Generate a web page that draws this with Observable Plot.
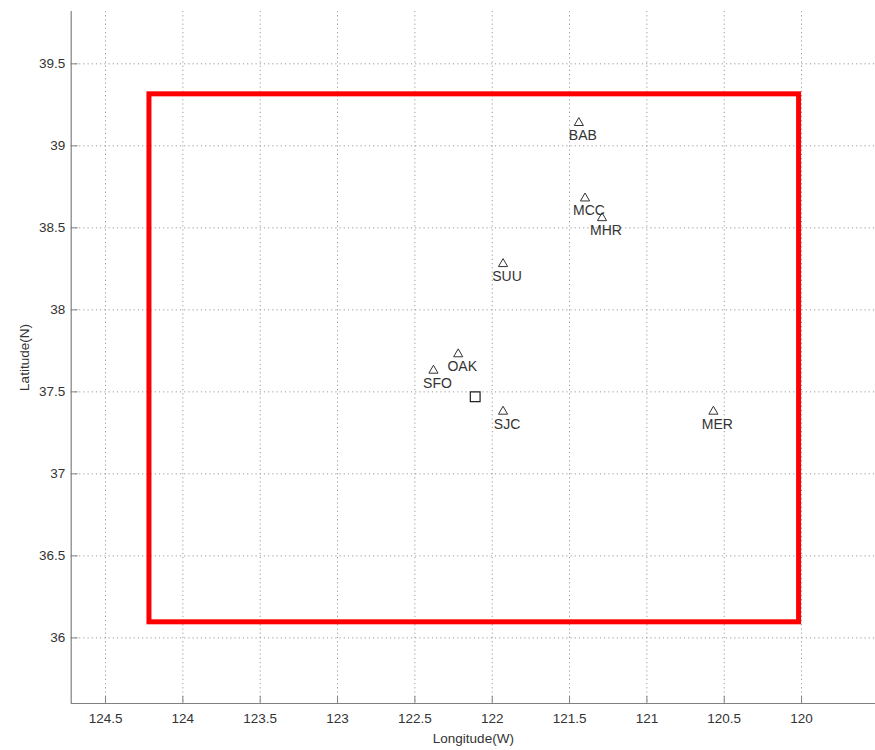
<!DOCTYPE html>
<html><head><meta charset="utf-8">
<script src="https://cdn.jsdelivr.net/npm/d3@7"></script>
<script src="https://cdn.jsdelivr.net/npm/@observablehq/plot@0.6"></script>
<style>body{margin:0;background:#fff;}</style>
</head><body><div id="chart"></div>
<script>
const xTicks = [124.5, 124, 123.5, 123, 122.5, 122, 121.5, 121, 120.5, 120];
const yTicks = [36, 36.5, 37, 37.5, 38, 38.5, 39, 39.5];
const xDomain = [124.722, 119.522];
const yDomain = [35.6, 39.819];
const stationNames = ["BAB", "MCC", "MHR", "SUU", "OAK", "SFO", "SJC", "MER"];
const stationLon = [121.44, 121.40, 121.29, 121.93, 122.22, 122.38, 121.93, 120.57];
const stationLat = [39.14, 38.68, 38.56, 38.28, 37.73, 37.63, 37.38, 37.38];
const targetLon = [122.11];
const targetLat = [37.47];
const boxLon = [124.216, 120.016];
const boxLat = [36.095, 39.314];

const stations = stationNames.map((name, i) => ({name, lon: stationLon[i], lat: stationLat[i]}));
const targets = targetLon.map((lon, i) => ({lon, lat: targetLat[i]}));
const box = [{x1: boxLon[0], x2: boxLon[1], y1: boxLat[0], y2: boxLat[1]}];

const W = 875, H = 750, mL = 70.7, mR = 0, mT = 11, mB = 47;
const innerW = W - mL - mR, innerH = H - mT - mB;
const axisColor = "#808080";
const fmt = d => String(d);

const chart = Plot.plot({
  width: W, height: H,
  marginLeft: mL, marginRight: mR, marginTop: mT, marginBottom: mB,
  style: {fontFamily: "'Liberation Sans', Arial, sans-serif", fontSize: "13.5px", color: "#333", background: "#fff"},
  x: {domain: xDomain},
  y: {domain: yDomain},
  marks: [
    Plot.gridX(xTicks, {stroke: "#9a9a9a", strokeOpacity: 1, strokeDasharray: "1.2,3"}),
    Plot.gridY(yTicks, {stroke: "#9a9a9a", strokeOpacity: 1, strokeDasharray: "1.2,3"}),
    Plot.rect(box, {x1: "x1", x2: "x2", y1: "y1", y2: "y2", stroke: "#ff0000", strokeWidth: 5, fill: "none", strokeLinejoin: "miter"}),
    Plot.tickX(xTicks, {x: d => d, insetTop: innerH - 7, stroke: axisColor}),
    Plot.tickY(yTicks, {y: d => d, insetRight: innerW - 7, stroke: axisColor}),
    Plot.ruleX([xDomain[0]], {stroke: axisColor, strokeWidth: 1.2}),
    Plot.ruleY([yDomain[0]], {stroke: axisColor, strokeWidth: 1.2}),
    Plot.axisX(xTicks, {tickSize: 0, tickPadding: 10, tickFormat: fmt, label: "Longitude(W)", labelAnchor: "center", labelArrow: "none", labelOffset: 39}),
    Plot.axisY(yTicks, {tickSize: 0, tickPadding: 6, tickFormat: fmt, label: "Latitude(N)", labelAnchor: "center", labelArrow: "none", labelOffset: 52}),
    Plot.dot(stations, {x: "lon", y: "lat", symbol: "triangle", r: 3.4, stroke: "#333", fill: "none", strokeWidth: 1}),
    Plot.dot(targets, {x: "lon", y: "lat", symbol: "square", r: 5.5, stroke: "#222", fill: "none", strokeWidth: 1.2}),
    Plot.text(stations, {x: "lon", y: "lat", text: "name", dx: 4, dy: 12.5, fontSize: 14, fill: "#333"})
  ]
});
document.getElementById("chart").appendChild(chart);
</script>
</body></html>
